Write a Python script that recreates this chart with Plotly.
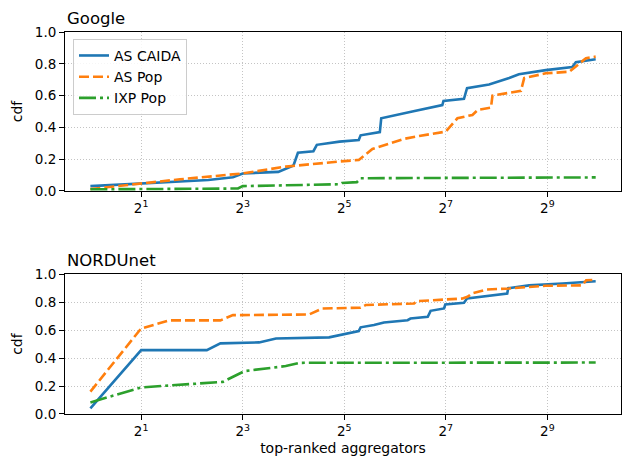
import math
import plotly.graph_objects as go

# ---- data (rank, cdf) ----
google_caida_x = [1, 2, 5, 7, 8, 13, 16, 17, 21, 22, 30, 39, 40, 52, 53, 81, 122, 124, 164, 171, 231, 304, 347, 501, 719, 755, 990]
google_caida_y = [0.03, 0.045, 0.069, 0.086, 0.11, 0.12, 0.16, 0.24, 0.25, 0.29, 0.31, 0.32, 0.35, 0.37, 0.457, 0.50, 0.54, 0.566, 0.58, 0.646, 0.67, 0.71, 0.734, 0.76, 0.78, 0.81, 0.828]

google_aspop_x = [1, 2, 3.4, 8, 14.4, 30, 39, 47, 65, 72, 89, 128, 150, 184, 198, 237, 242, 357, 373, 501, 690, 867, 990]
google_aspop_y = [0.012, 0.048, 0.073, 0.11, 0.153, 0.185, 0.195, 0.264, 0.31, 0.327, 0.346, 0.373, 0.457, 0.478, 0.51, 0.524, 0.60, 0.63, 0.71, 0.74, 0.75, 0.835, 0.845]

google_ixp_x = [1, 7.5, 8, 30, 31, 38, 40, 990]
google_ixp_y = [0.01, 0.015, 0.03, 0.042, 0.05, 0.055, 0.08, 0.085]

nord_caida_x = [1, 2, 4.9, 5.9, 10, 12.6, 26, 30.5, 39, 40, 48, 55, 76, 79, 100, 104, 125, 127, 164, 171, 296, 300, 399, 630, 990]
nord_caida_y = [0.04, 0.457, 0.457, 0.505, 0.512, 0.54, 0.548, 0.564, 0.593, 0.62, 0.636, 0.655, 0.671, 0.683, 0.695, 0.738, 0.755, 0.783, 0.795, 0.826, 0.862, 0.90, 0.92, 0.933, 0.95]

nord_aspop_x = [1, 2, 2.95, 5.9, 7, 19.8, 23.8, 40, 43, 83, 86, 111, 115, 161, 172, 183, 224, 304, 501, 826, 870, 990]
nord_aspop_y = [0.16, 0.612, 0.67, 0.67, 0.707, 0.712, 0.755, 0.76, 0.78, 0.79, 0.807, 0.814, 0.82, 0.826, 0.838, 0.862, 0.89, 0.898, 0.917, 0.92, 0.957, 0.96]

nord_ixp_x = [1, 2, 6.1, 8.2, 14.4, 17.3, 990]
nord_ixp_y = [0.083, 0.19, 0.23, 0.307, 0.343, 0.366, 0.368]

series_names = ["AS CAIDA", "AS Pop", "IXP Pop"]
panel_titles = ["Google", "NORDUnet"]
x_title = "top-ranked aggregators"
y_title = "cdf"
x_tick_vals = [2, 8, 32, 128, 512]
x_tick_text = ["2<sup>1</sup>", "2<sup>3</sup>", "2<sup>5</sup>", "2<sup>7</sup>", "2<sup>9</sup>"]
y_tick_vals = [0.0, 0.2, 0.4, 0.6, 0.8, 1.0]

colors = ["#1f77b4", "#ff7f0e", "#2ca02c"]
dashes = ["solid", "10px,4px", "17px,4px,3px,4px"]

FONT = "DejaVu Sans"
TICK = dict(size=13.5, color="black", family=FONT)
LAB = dict(size=14, color="black", family=FONT)
fig = go.Figure()

panels = [
    [(google_caida_x, google_caida_y), (google_aspop_x, google_aspop_y), (google_ixp_x, google_ixp_y)],
    [(nord_caida_x, nord_caida_y), (nord_aspop_x, nord_aspop_y), (nord_ixp_x, nord_ixp_y)],
]
axes = [("x", "y"), ("x2", "y2")]
for p, series in enumerate(panels):
    for i, (xs, ys) in enumerate(series):
        fig.add_trace(go.Scatter(
            x=xs, y=ys, mode="lines", name=series_names[i],
            line=dict(color=colors[i], width=2.6, dash=dashes[i]),
            xaxis=axes[p][0], yaxis=axes[p][1], showlegend=(p == 0),
        ))

xr = [math.log10(2 ** -0.5), math.log10(2 ** 10.45)]
common_x = dict(type="log", range=xr, tickvals=x_tick_vals, ticktext=x_tick_text,
                showline=True, linecolor="black", linewidth=1, mirror=True,
                ticks="outside", ticklen=5, tickcolor="black", automargin=False,
                showgrid=True, gridcolor="#c4c4c4", griddash="1px,2px", gridwidth=1,
                zeroline=False, tickfont=TICK)
common_y = dict(range=[0, 1], tickvals=y_tick_vals, tickformat=".1f",
                showline=True, linecolor="black", linewidth=1, mirror=True,
                ticks="outside", ticklen=5, tickcolor="black", automargin=False,
                showgrid=True, gridcolor="#c4c4c4", griddash="1px,2px", gridwidth=1,
                zeroline=False, tickfont=TICK,
                title=dict(text=y_title, font=LAB, standoff=8))

fig.update_layout(
    width=624, height=460,
    margin=dict(l=65, r=3, t=32, b=46),
    paper_bgcolor="white", plot_bgcolor="white",
    font=dict(family=FONT, size=14, color="black"),
    xaxis=dict(domain=[0, 1], anchor="y", **common_x),
    yaxis=dict(domain=[0.584, 1], anchor="x", **common_y),
    xaxis2=dict(domain=[0, 1], anchor="y2",
                title=dict(text=x_title, font=LAB, standoff=4),
                **common_x),
    yaxis2=dict(domain=[0, 0.366], anchor="x2", **common_y),
    legend=dict(x=0.0144, y=0.982, xanchor="left", yanchor="top",
                bgcolor="rgba(255,255,255,0.85)", bordercolor="#cccccc", borderwidth=1,
                font=LAB, tracegroupgap=0),
    annotations=[
        dict(text=panel_titles[0], x=0, y=1, xref="paper", yref="paper", xanchor="left", yanchor="bottom",
             yshift=2, showarrow=False, font=dict(size=16.5, family=FONT, color="black")),
        dict(text=panel_titles[1], x=0, y=0.366, xref="paper", yref="paper", xanchor="left", yanchor="bottom",
             yshift=2, showarrow=False, font=dict(size=16.5, family=FONT, color="black")),
    ],
)

fig.write_html("out.html", config={"displayModeBar": False},
               post_script="document.body.style.margin='0';")
